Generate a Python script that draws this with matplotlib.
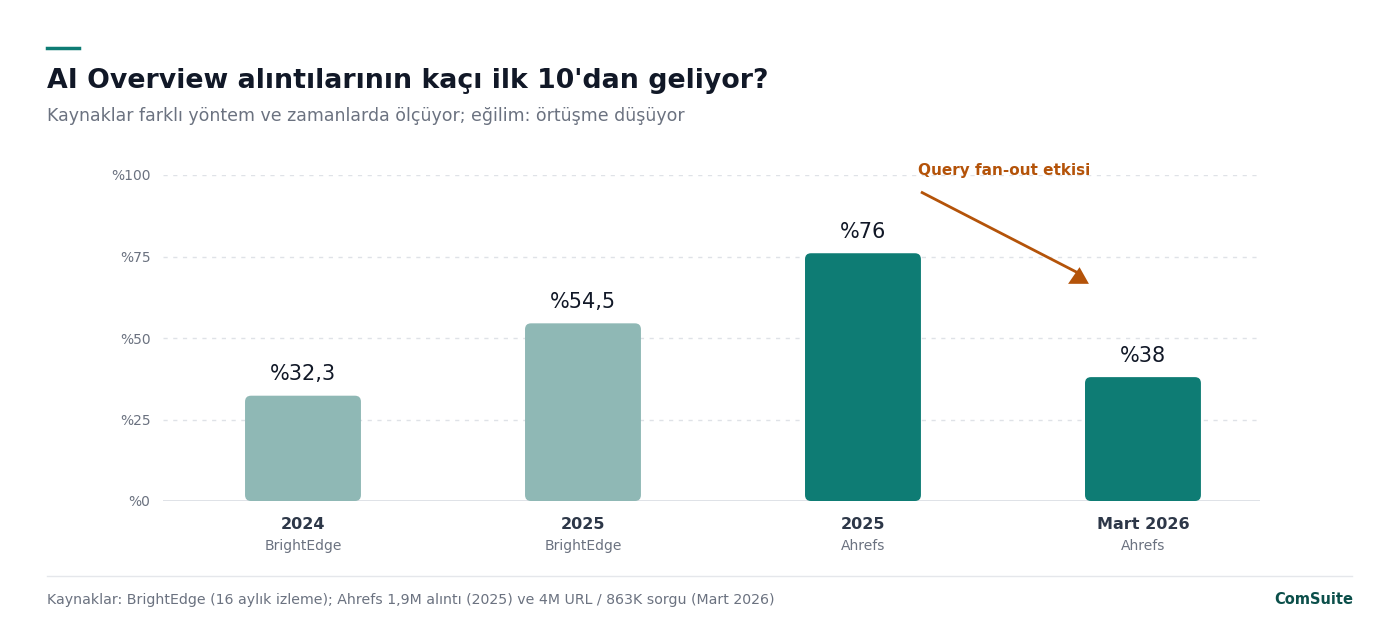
import numpy as np
import matplotlib.pyplot as plt
from matplotlib.patches import FancyBboxPatch
import matplotlib.transforms as mtransforms

plt.rcParams['font.family'] = ['DejaVu Sans']

# data
years = ["2024", "2025", "2025", "Mart 2026"]
sources = ["BrightEdge", "BrightEdge", "Ahrefs", "Ahrefs"]
values = [32.3, 54.5, 76, 38]
value_labels = ["%32,3", "%54,5", "%76", "%38"]
yticks = [0, 25, 50, 75, 100]
ytick_labels = ["%0", "%25", "%50", "%75", "%100"]

LIGHT = "#8fb8b5"
DARK = "#0e7c74"
bar_colors = [LIGHT, LIGHT, DARK, DARK]
ORANGE = "#b45309"

fig = plt.figure(figsize=(14, 6.3), dpi=100)
fig.patch.set_facecolor("white")

ax = fig.add_axes([163/1400, 1 - 501/630, (1260 - 163)/1400, (501 - 175)/630])
ax.set_xlim(-0.5, 3.418)
ax.set_ylim(0, 100)

# rounded bars
bw = 0.414
x_per_px = 1 / 280
y_per_px = 100 / 326
for i, v in enumerate(values):
    p = FancyBboxPatch((i - bw/2, 0), bw, v,
                       boxstyle="round,pad=0,rounding_size=%f" % (6 * x_per_px),
                       mutation_aspect=y_per_px / x_per_px,
                       facecolor=bar_colors[i], edgecolor="none", zorder=3)
    ax.add_patch(p)
    ax.annotate(value_labels[i], (i, v), xytext=(0, 15.5), textcoords="offset points",
                ha="center", va="center", fontsize=15, color="#111827", zorder=4)

# grid
for t in yticks[1:]:
    ax.axhline(t, color="#dfe2e7", lw=1, ls=(0, (3, 4)), zorder=1)
ax.axhline(0, color="#d9dde3", lw=1.2, zorder=2)

ax.set_yticks(yticks)
ax.set_yticklabels(ytick_labels, fontsize=10, color="#6b7280")
ax.tick_params(axis="y", length=0, pad=9)
ax.set_xticks([])
for s in ax.spines.values():
    s.set_visible(False)

# category labels
trans = mtransforms.blended_transform_factory(ax.transData, ax.transAxes)
for i in range(len(years)):
    ax.text(i, -0.0706, years[i], transform=trans, ha="center", va="center",
            fontsize=11.5, fontweight="bold", color="#2d3748")
    ax.text(i, -0.138, sources[i], transform=trans, ha="center", va="center",
            fontsize=10, color="#6b7280")

# annotation: line plus an upright triangle head
ax.plot([2.207, 2.772], [94.8, 69.8], color=ORANGE, lw=2, solid_capstyle="butt",
        zorder=5, clip_on=False)
tri = [(-1.0, -0.8), (1.0, -0.8), (0.1, 0.8), (-1.0, -0.8)]
ax.plot([2.768], [69.3], marker=tri, ms=15, color=ORANGE, mec="none",
        zorder=6, clip_on=False)
ax.text(2.196, 101.5, "Query fan-out etkisi", ha="left", va="center",
        fontsize=11, fontweight="bold", color=ORANGE, clip_on=False)

# header
fig.add_artist(plt.Line2D([47/1400, 79/1400], [1 - 48/630, 1 - 48/630],
                          color=DARK, lw=2.5))
fig.text(47/1400, 1 - 81/630, "AI Overview alıntılarının kaçı ilk 10'dan geliyor?",
         ha="left", va="center", fontsize=19.25, fontweight="bold", color="#111827")
fig.text(47/1400, 1 - 116/630, "Kaynaklar farklı yöntem ve zamanlarda ölçüyor; eğilim: örtüşme düşüyor",
         ha="left", va="center", fontsize=12.5, color="#6b7280")

# footer
fig.add_artist(plt.Line2D([47/1400, 1352/1400], [1 - 576/630, 1 - 576/630],
                          color="#e5e7eb", lw=1))
fig.text(47/1400, 1 - 600/630,
         "Kaynaklar: BrightEdge (16 aylık izleme); Ahrefs 1,9M alıntı (2025) ve 4M URL / 863K sorgu (Mart 2026)",
         ha="left", va="center", fontsize=10.13, color="#6b7280")
fig.text(1353/1400, 1 - 600/630, "ComSuite", ha="right", va="center",
         fontsize=10.5, fontweight="bold", color="#0b4f4a")

fig.savefig("out.png", dpi=100, facecolor="white")
